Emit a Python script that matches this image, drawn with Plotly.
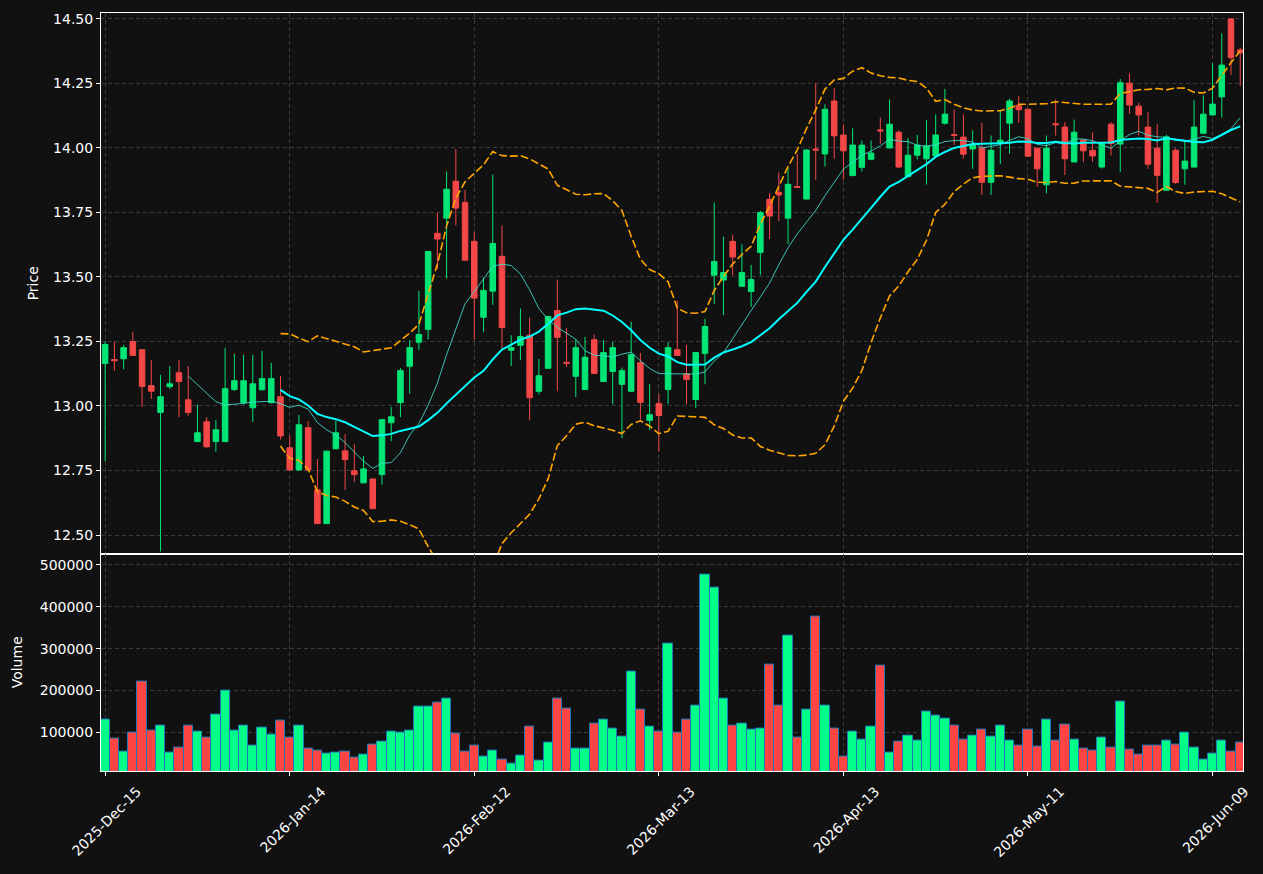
import pandas as pd
import plotly.graph_objects as go

# ---------------- data ----------------
holidays = ['2025-12-25', '2026-01-01', '2026-01-19', '2026-02-16', '2026-04-03', '2026-05-25']
dates = pd.bdate_range('2025-12-15', periods=124, freq='C', holidays=holidays)
date_labels = [d.strftime('%Y-%m-%d') for d in dates]

opens = [13.165, 13.180, 13.183, 13.250, 13.218, 13.079, 12.975, 13.075, 13.129, 13.024,
         12.862, 12.939, 12.862, 12.862, 13.064, 13.013, 12.993, 13.063, 13.013, 13.036,
         12.838, 12.752, 12.916, 12.675, 12.544, 12.834, 12.826, 12.749, 12.702, 12.717,
         12.734, 12.935, 13.013, 13.154, 13.247, 13.297, 13.669, 13.728, 13.871, 13.789,
         13.638, 13.344, 13.445, 13.580, 13.216, 13.235, 13.274, 13.057, 13.146, 13.370,
         13.169, 13.115, 13.064, 13.257, 13.095, 13.134, 13.084, 13.057, 13.168, 12.944,
         13.010, 13.064, 13.218, 13.125, 13.025, 13.204, 13.507, 13.488, 13.638, 13.464,
         13.444, 13.595, 13.801, 13.828, 13.728, 13.850, 13.802, 13.996, 13.977, 14.182,
         14.050, 13.893, 13.925, 13.956, 14.070, 14.000, 14.061, 13.889, 13.972, 13.958,
         13.969, 14.096, 14.052, 14.042, 13.996, 14.000, 13.867, 14.020, 14.096, 14.165,
         14.150, 13.999, 13.857, 14.094, 14.081, 13.946, 14.031, 13.991, 13.926, 14.092,
         14.015, 14.251, 14.162, 14.081, 13.999, 13.836, 13.991, 13.919, 13.926, 14.057,
         14.128, 14.198, 14.500, 14.380]
highs = [13.250, 13.250, 13.237, 13.287, 13.220, 13.178, 13.120, 13.155, 13.178, 13.155,
         13.006, 12.957, 12.945, 13.225, 13.202, 13.198, 13.198, 13.213, 13.167, 13.116,
         12.886, 12.965, 12.942, 12.794, 12.825, 12.944, 12.891, 12.851, 12.806, 12.718,
         12.947, 12.996, 13.147, 13.255, 13.446, 13.600, 13.748, 13.909, 13.996, 13.837,
         13.673, 13.498, 13.897, 13.699, 13.274, 13.378, 13.343, 13.183, 13.349, 13.489,
         13.303, 13.258, 13.268, 13.277, 13.256, 13.248, 13.149, 13.326, 13.206, 13.085,
         13.046, 13.247, 13.408, 13.237, 13.207, 13.338, 13.788, 13.656, 13.664, 13.627,
         13.547, 13.756, 13.825, 13.905, 13.922, 13.977, 13.996, 14.251, 14.169, 14.231,
         14.091, 14.076, 14.029, 14.029, 14.118, 14.188, 14.068, 14.039, 14.051, 14.109,
         14.130, 14.229, 14.149, 14.130, 14.068, 14.097, 14.048, 14.145, 14.191, 14.201,
         14.152, 14.001, 14.048, 14.188, 14.100, 14.110, 14.033, 14.060, 14.019, 14.100,
         14.267, 14.289, 14.175, 14.138, 14.093, 14.051, 13.999, 14.026, 14.185, 14.204,
         14.328, 14.444, 14.502, 14.389]
lows = [12.787, 13.136, 13.142, 13.195, 12.996, 13.027, 12.436, 13.066, 12.957, 12.963,
        12.860, 12.838, 12.823, 12.860, 13.058, 13.006, 12.938, 13.060, 13.010, 12.870,
        12.750, 12.750, 12.750, 12.544, 12.542, 12.832, 12.674, 12.705, 12.700, 12.602,
        12.695, 12.864, 12.957, 13.048, 13.217, 13.258, 13.530, 13.494, 13.700, 13.563,
        13.255, 13.287, 13.392, 13.220, 13.155, 13.178, 12.944, 13.045, 13.144, 13.057,
        13.151, 13.035, 13.062, 13.124, 13.093, 13.006, 12.875, 13.055, 12.947, 12.907,
        12.823, 13.006, 13.194, 13.006, 12.992, 13.084, 13.396, 13.352, 13.507, 13.462,
        13.384, 13.507, 13.647, 13.717, 13.627, 13.846, 13.800, 13.877, 13.928, 13.958,
        13.877, 13.890, 13.909, 13.954, 14.016, 13.998, 13.921, 13.887, 13.955, 13.858,
        13.967, 14.090, 14.012, 13.958, 13.919, 13.818, 13.818, 13.938, 13.978, 14.097,
        13.966, 13.849, 13.824, 14.048, 13.895, 13.944, 13.945, 13.946, 13.920, 13.971,
        13.907, 14.132, 14.048, 13.919, 13.787, 13.834, 13.860, 13.858, 13.924, 14.055,
        14.126, 14.118, 14.283, 14.240]
closes = [13.238, 13.175, 13.226, 13.196, 13.076, 13.057, 13.036, 13.086, 13.095, 12.975,
          12.896, 12.842, 12.908, 13.067, 13.098, 13.098, 13.086, 13.106, 13.106, 12.884,
          12.752, 12.927, 12.752, 12.544, 12.825, 12.896, 12.792, 12.734, 12.756, 12.602,
          12.947, 12.958, 13.137, 13.226, 13.277, 13.599, 13.647, 13.840, 13.767, 13.565,
          13.418, 13.448, 13.630, 13.304, 13.226, 13.269, 13.032, 13.117, 13.347, 13.266,
          13.165, 13.226, 13.189, 13.126, 13.207, 13.226, 13.137, 13.199, 13.014, 12.966,
          12.963, 13.226, 13.196, 13.103, 13.207, 13.308, 13.560, 13.517, 13.577, 13.517,
          13.490, 13.750, 13.736, 13.818, 13.859, 13.847, 13.992, 13.992, 14.150, 14.047,
          13.989, 14.011, 14.011, 13.980, 14.066, 14.092, 13.926, 13.972, 14.011, 14.008,
          14.050, 14.131, 14.049, 13.976, 14.012, 13.867, 13.991, 14.030, 14.182, 14.148,
          13.968, 13.919, 13.999, 14.090, 13.958, 14.061, 13.989, 13.969, 14.017, 14.017,
          14.253, 14.166, 14.128, 13.937, 13.894, 14.043, 13.866, 13.949, 14.081, 14.131,
          14.170, 14.321, 14.350, 14.369]
volumes = [131000, 86000, 54000, 100000, 221000, 105000, 117000, 52000, 64000, 117000,
           102000, 88000, 143000, 200000, 105000, 117000, 69000, 112000, 95000, 129000,
           88000, 117000, 62000, 57000, 50000, 52000, 55000, 40000, 48000, 71000,
           79000, 102000, 100000, 105000, 162000, 162000, 171000, 181000, 98000, 55000,
           69000, 43000, 57000, 35000, 26000, 45000, 114000, 33000, 76000, 181000,
           157000, 62000, 62000, 121000, 131000, 110000, 90000, 245000, 155000, 114000,
           102000, 312000, 100000, 131000, 164000, 476000, 445000, 181000, 117000, 121000,
           107000, 110000, 262000, 164000, 331000, 88000, 155000, 376000, 164000, 110000,
           43000, 102000, 83000, 114000, 260000, 52000, 79000, 93000, 81000, 150000,
           140000, 133000, 117000, 83000, 93000, 107000, 90000, 117000, 81000, 69000,
           107000, 67000, 131000, 81000, 119000, 83000, 62000, 57000, 88000, 64000,
           174000, 60000, 48000, 69000, 69000, 81000, 71000, 100000, 64000, 36000,
           50000, 81000, 55000, 76000]

price_ticks = [12.50, 12.75, 13.00, 13.25, 13.50, 13.75, 14.00, 14.25, 14.50]
volume_ticks = [100000, 200000, 300000, 400000, 500000]
tick_every = 20

# ---------------- styles ----------------
BG = '#111111'
UP_CANDLE = '#00e676'
DOWN_CANDLE = '#f44747'
UP_VOL = '#00ff88'
DOWN_VOL = '#ff4444'
GRID = '#3a3a3a'
FONT = dict(family='DejaVu Sans', size=14, color='white')

# ---------------- indicators ----------------
close_s = pd.Series(closes)
ma10 = close_s.rolling(10).mean()
ma20 = close_s.rolling(20).mean()
sd20 = close_s.rolling(20).std(ddof=0)
bb_up = ma20 + 2 * sd20
bb_lo = ma20 - 2 * sd20

vol_colors = [UP_VOL if c >= o else DOWN_VOL for o, c in zip(opens, closes)]

tick_vals = date_labels[::tick_every]
tick_text = [d.strftime('%Y-%b-%d') for d in dates[::tick_every]]

fig = go.Figure()
fig.add_trace(go.Candlestick(
    x=date_labels, open=opens, high=highs, low=lows, close=closes,
    increasing=dict(line=dict(color=UP_CANDLE, width=1), fillcolor=UP_CANDLE),
    decreasing=dict(line=dict(color=DOWN_CANDLE, width=1), fillcolor=DOWN_CANDLE),
    whiskerwidth=0, showlegend=False, xaxis='x', yaxis='y', name='Price'))

fig.add_trace(go.Scatter(x=date_labels, y=bb_up, mode='lines', showlegend=False,
                         line=dict(color='#ffa500', width=1.6, dash='8px,3px'),
                         xaxis='x', yaxis='y', name='BB upper'))
fig.add_trace(go.Scatter(x=date_labels, y=bb_lo, mode='lines', showlegend=False,
                         line=dict(color='#ffa500', width=1.6, dash='8px,3px'),
                         xaxis='x', yaxis='y', name='BB lower'))
fig.add_trace(go.Scatter(x=date_labels, y=ma10, mode='lines', showlegend=False,
                         line=dict(color='rgba(64,224,208,0.85)', width=1),
                         xaxis='x', yaxis='y', name='MA10'))
fig.add_trace(go.Scatter(x=date_labels, y=ma20, mode='lines', showlegend=False,
                         line=dict(color='#00ffff', width=2),
                         xaxis='x', yaxis='y', name='MA20'))

fig.add_trace(go.Bar(x=date_labels, y=volumes, showlegend=False,
                     marker=dict(color=vol_colors, line=dict(color='#1f77b4', width=1)),
                     xaxis='x2', yaxis='y2', name='Volume'))

split = 218 / 760
xrange_ = [-0.45, 123.3]
common_axis = dict(showline=True, linecolor='white', linewidth=1, mirror=True,
                   showgrid=True, gridcolor=GRID, gridwidth=1, griddash='4px,3px',
                   zeroline=False, tickfont=FONT, tickcolor='white')

fig.update_layout(
    width=1263, height=874,
    margin=dict(l=101, r=18, t=11, b=103),
    paper_bgcolor=BG, plot_bgcolor=BG,
    font=FONT,
    bargap=0, boxgap=0.4, boxgroupgap=0,
    xaxis=dict(common_axis, type='category', range=xrange_, matches='x2',
               anchor='y', tickmode='array', tickvals=tick_vals, ticktext=tick_text,
               showticklabels=False, ticks='', rangeslider=dict(visible=False)),
    yaxis=dict(common_axis, domain=[split, 1], range=[12.428, 14.523], anchor='x',
               tickmode='array', tickvals=price_ticks, tickformat='.2f',
               ticks='outside', ticklen=4,
               title=dict(text='Price', font=FONT, standoff=11)),
    xaxis2=dict(common_axis, type='category', range=xrange_, anchor='y2',
                tickmode='array', tickvals=tick_vals, ticktext=tick_text,
                tickangle=-45, ticks='outside', ticklen=4, ticklabelshift=32,
                ticklabelstandoff=2),
    yaxis2=dict(common_axis, domain=[0, split], range=[7900, 527000], anchor='x2',
                tickmode='array', tickvals=volume_ticks, tickformat='d',
                ticks='outside', ticklen=4,
                title=dict(text='Volume', font=FONT, standoff=13)),
)

fig.write_html('out.html')
